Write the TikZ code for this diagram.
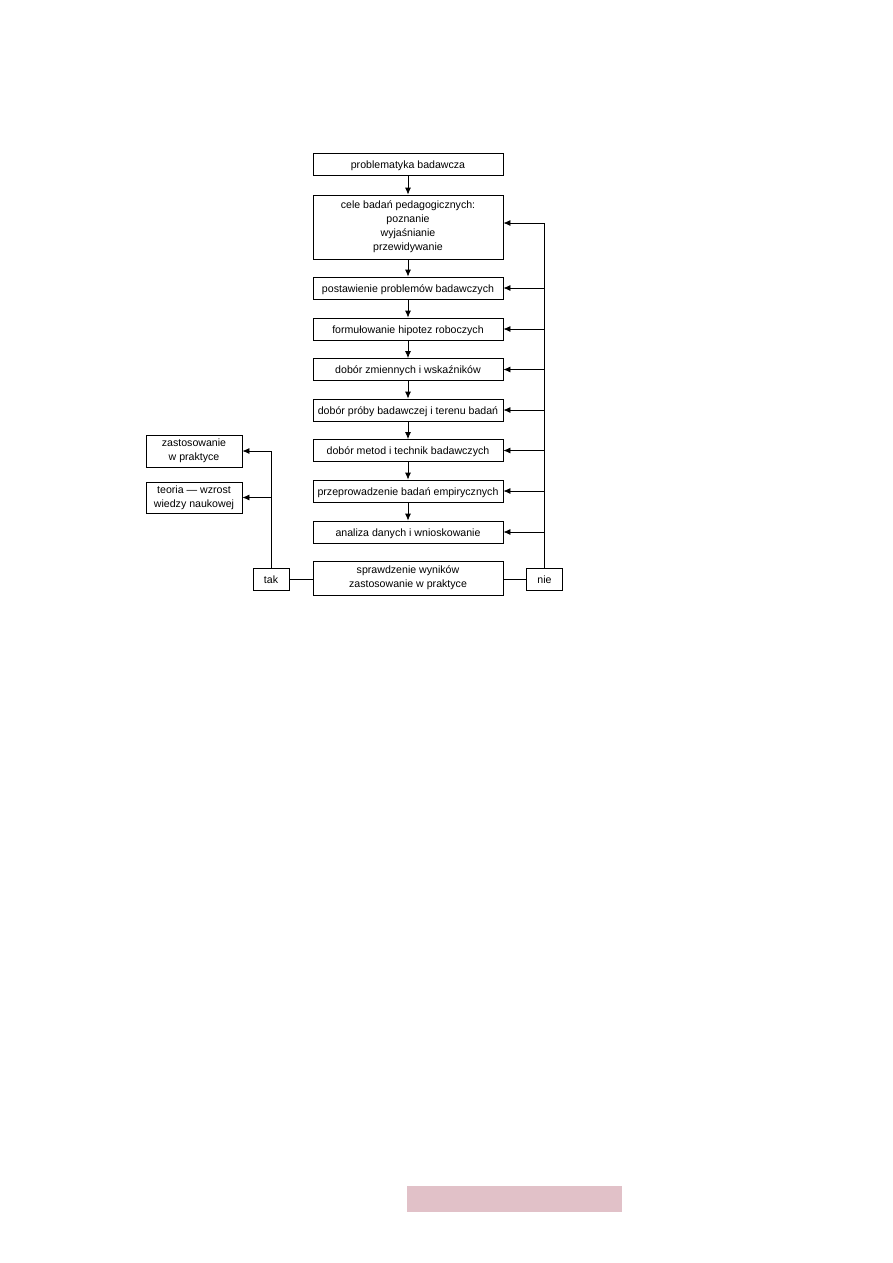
\documentclass[tikz,border=0pt]{standalone}
\usepackage{fontspec}
\setmainfont{Liberation Sans}
\usetikzlibrary{arrows.meta}
\definecolor{pinkbar}{RGB}{225,193,200}
\begin{document}
\begin{tikzpicture}[x=1pt,y=-1pt,
  box/.style={draw=black,line width=0.8pt,inner sep=0pt,align=center,
    font=\fontsize{10.6}{14}\selectfont},
  one/.style={text height=9pt,text depth=1pt},
  main/.style={box,minimum width=190pt,minimum height=22pt},
  conn/.style={line width=0.8pt},
  arr/.style={conn,-{Latex[length=7pt,width=6pt]}}]
\useasboundingbox (0,0) rectangle (893,1263);
\node[main,one] (p1) at (408,164) {problematyka badawcza};
\node[main,minimum height=64pt] (p2) at (408,227) {cele badań pedagogicznych:\\poznanie\\wyjaśnianie\\przewidywanie};
\node[main,one] (p3) at (408,288) {postawienie problemów badawczych};
\node[main,one] (p4) at (408,329) {formułowanie hipotez roboczych};
\node[main,one] (p5) at (408,369.5) {dobór zmiennych i wskaźników};
\node[main,one] (p6) at (408,410) {dobór próby badawczej i terenu badań};
\node[main,one] (p7) at (408,450.5) {dobór metod i technik badawczych};
\node[main,one] (p8) at (408,491) {przeprowadzenie badań empirycznych};
\node[main,one] (p9) at (408,532) {analiza danych i wnioskowanie};
\node[main,minimum height=34pt] (p10) at (408,578) {sprawdzenie wyników\\zastosowanie w praktyce};
\node[box,one,minimum width=36pt,minimum height=22pt] (tak) at (271,579) {tak};
\node[box,one,minimum width=36pt,minimum height=22pt] (nie) at (544.5,579) {nie};
\node[box,minimum width=96pt,minimum height=32pt] (z1) at (194,451) {zastosowanie\\w praktyce};
\node[box,minimum width=96pt,minimum height=31pt] (z2) at (194,497.5) {teoria — wzrost\\wiedzy naukowej};
\foreach \a/\b in {p1/p2,p2/p3,p3/p4,p4/p5,p5/p6,p6/p7,p7/p8,p8/p9}
  \draw[arr] (\a.south) -- (\b.north);
\coordinate (p2e) at ([yshift=4pt]p2.east);
\draw[arr] (nie.north) |- (p2e);
\foreach \b in {p3,p4,p5,p6,p7,p8,p9}
  \draw[arr] (nie.north |- \b.east) -- (\b.east);
\draw[arr] (tak.north) |- (z1.east);
\draw[arr] (tak.north |- z2.east) -- (z2.east);
\draw[conn] (tak.east) -- (tak.east -| p10.west);
\draw[conn] (nie.west) -- (nie.west -| p10.east);
\fill[pinkbar] (407,1186) rectangle (622,1212);
\end{tikzpicture}
\end{document}
